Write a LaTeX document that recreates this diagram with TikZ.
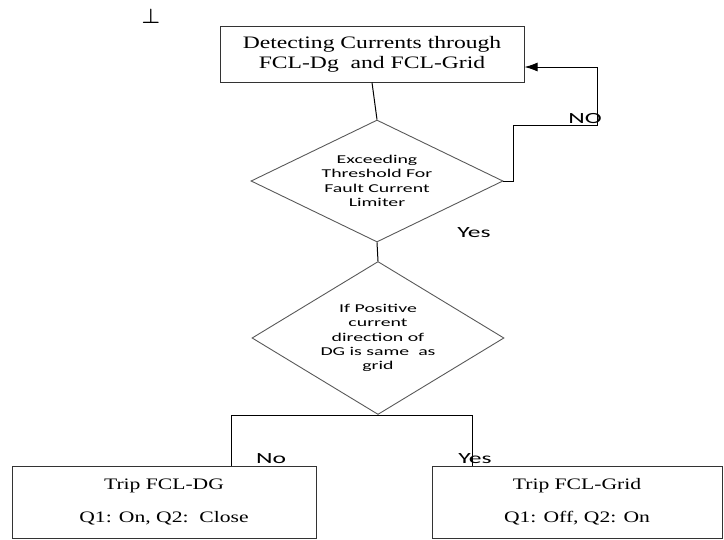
\documentclass[tikz,border=0pt]{standalone}
\usepackage{amsmath,amssymb}
\usepackage{fontspec}
\setmainfont{Liberation Serif}
\newfontfamily\boxfont[FakeStretch=1.35]{Liberation Serif}
\newfontfamily\diafont[FakeStretch=1.65]{Carlito}
\usetikzlibrary{calc, positioning, shapes, arrows, arrows.meta}
\tikzset{
  flowbox/.style={draw=black!80, line width=1pt, inner sep=0pt, align=center,
    font=\boxfont\fontsize{17.5}{20}\selectfont},
  decision/.style={diamond, draw=black!65, line width=0.9pt, inner sep=0pt, align=center,
    minimum width=252pt, font=\diafont\fontsize{12}{14.3}\selectfont},
  answer/.style={inner sep=0pt, font=\diafont\fontsize{15.5}{17}\selectfont},
  flowline/.style={line width=1pt},
}

\begin{document}
\begin{tikzpicture}[x=1pt, y=-1pt]
		\useasboundingbox (0,0) rectangle (724,539);

		\node[inner sep=0pt, font=\fontsize{20}{20}\selectfont] (mark) at (151,16) {$\boldsymbol{\perp}$};

		\node[flowbox, minimum width=304pt, minimum height=56pt] (detect) at (372,54)
			{Detecting Currents through\\FCL-Dg\ \ and FCL-Grid};
		\node[decision, aspect=2.07, minimum height=122pt] (exceed) at (377,181)
			{Exceeding\\Threshold For\\Fault Current\\Limiter};
		\node[decision, aspect=1.65, minimum height=153pt] (direction) at (378,338)
			{If Positive\\current\\direction of\\DG is same\ \ as\\grid};
		\node[flowbox, minimum width=304pt, minimum height=72pt, font=\boxfont\fontsize{16}{33}\selectfont]
			(tripdg) at (164,502) {Trip FCL-DG\\Q1: On, Q2:\ \ Close};
		\node[flowbox, minimum width=290pt, minimum height=72pt, font=\boxfont\fontsize{16}{33}\selectfont]
			(tripgrid) at (577,502) {Trip FCL-Grid\\Q1: Off, Q2: On};

		\coordinate (noA) at (513,125);
		\coordinate (noB) at (597,67);
		\coordinate (brL) at (231,415);
		\coordinate (brR) at (472,415);

		\draw[flowline] (detect.south) -- (exceed.north);
		\draw[flowline] (exceed.south) -- (direction.north);
		\draw[flowline, -{Latex[length=13pt,width=9pt]}] (exceed.east) -| (noA) -| (noB) -- (noB -| detect.east);

		\draw[flowline] (brL) -- (brR);
		\foreach \from / \to in {brL/tripdg, brR/tripgrid}
		\draw[flowline] (\from) -- (\from |- \to.north);

		\node[answer] (no1) at (585,119) {NO};
		\node[answer] (yes1) at (474,233) {Yes};
		\node[answer] (no2) at (271,459) {No};
		\node[answer] (yes2) at (475,459) {Yes};
	\end{tikzpicture}
\end{document}
